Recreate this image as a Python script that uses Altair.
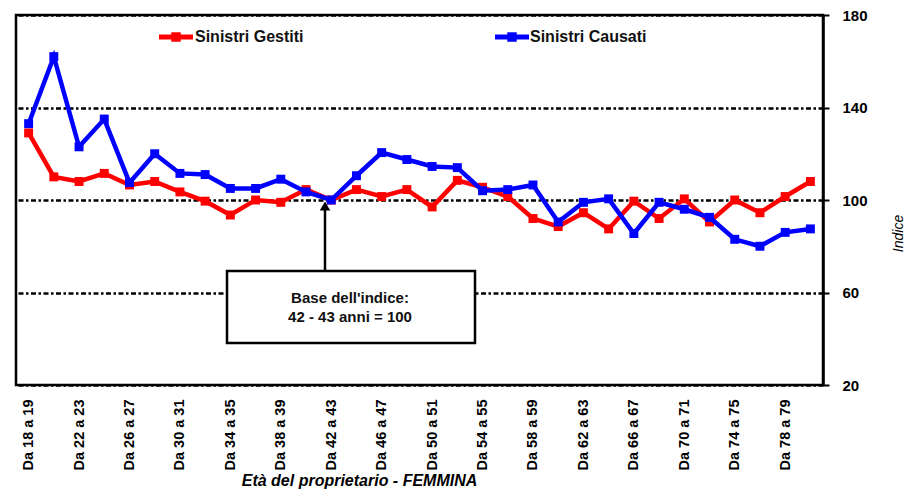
import altair as alt
import pandas as pd

ages = ["Da 18 a 19", "Da 20 a 21", "Da 22 a 23", "Da 24 a 25", "Da 26 a 27", "Da 28 a 29",
        "Da 30 a 31", "Da 32 a 33", "Da 34 a 35", "Da 36 a 37", "Da 38 a 39", "Da 40 a 41",
        "Da 42 a 43", "Da 44 a 45", "Da 46 a 47", "Da 48 a 49", "Da 50 a 51", "Da 52 a 53",
        "Da 54 a 55", "Da 56 a 57", "Da 58 a 59", "Da 60 a 61", "Da 62 a 63", "Da 64 a 65",
        "Da 66 a 67", "Da 68 a 69", "Da 70 a 71", "Da 72 a 73", "Da 74 a 75", "Da 76 a 77",
        "Da 78 a 79", "Da 80 a 81"]
gestiti = [129, 110, 108, 111.5, 106.5, 108, 103.5, 99.5, 93.5, 100, 99, 104.5, 100, 104.5,
           101.5, 104.5, 97, 108.5, 105.5, 101.5, 92, 88.5, 94.5, 87.5, 99.5, 92, 100.5, 90.5,
           100, 94.5, 101.5, 108]
causati = [133, 162, 123, 135, 107.5, 120, 111.5, 111, 105, 105, 109, 103.5, 100, 110.5,
           120.5, 117.5, 114.5, 114, 104, 104.5, 106.5, 90.5, 99, 100.5, 85.5, 99, 96, 92.5,
           83, 80, 86, 87.5]
series_names = ["Sinistri Gestiti", "Sinistri Causati"]
series_colors = ["#FF0000", "#0000FF"]
y_ticks = [20, 60, 100, 140, 180]
x_label_values = ages[::2]
note_lines = ["Base dell'indice:", "42 - 43 anni = 100"]

FONT = "Liberation Sans"

x_enc = alt.X("age:O", sort=ages, scale=alt.Scale(type="point"),
              axis=alt.Axis(values=x_label_values, labelAngle=-90, labelAlign="right",
                            labelBaseline="middle", labelPadding=14, labelFontSize=14.5,
                            labelFontWeight="bold", labelColor="black", ticks=False,
                            domain=False, grid=False,
                            title="Età del proprietario - FEMMINA", titleFontSize=16,
                            titleFontStyle="italic", titleFontWeight="bold",
                            titleColor="black", titleX=343, titleY=95,
                            titleAlign="center", titleBaseline="middle"))
y_enc = alt.Y("v:Q", scale=alt.Scale(domain=[20, 180], nice=False, zero=False),
              axis=alt.Axis(orient="right", values=y_ticks, labelFontSize=15,
                            labelFontWeight="bold", labelColor="black", labelPadding=13,
                            tickSize=6, tickWidth=2, tickColor="black",
                            domain=True, domainWidth=2.5, domainColor="black",
                            grid=True, gridColor="black", gridWidth=2.5,
                            gridDash=[5, 2.5, 2.5, 2.5], gridOpacity=1,
                            title="Indice", titleFontSize=14, titleFontStyle="italic",
                            titleFontWeight="normal", titleColor="black",
                            titleAngle=270, titleX=75, titleY=218,
                            titleAlign="center", titleBaseline="middle"))

layers = []
for name, vals, col in zip(series_names, [gestiti, causati], series_colors):
    df = pd.DataFrame({"age": ages, "v": vals, "s": name})
    layers.append(
        alt.Chart(df).mark_line(color=col, strokeWidth=4.5,
                                point=alt.OverlayMarkDef(shape="square", size=80,
                                                         filled=True, color=col, opacity=1))
        .encode(x=x_enc, y=y_enc)
    )

one = pd.DataFrame({"k": [0]})

# legend (inside plot, top)
legend_pos = [(143, 177, 160, 179), (479, 513, 496, 514)]
for name, col, (x1, x2, xs, xt) in zip(series_names, series_colors, legend_pos):
    layers.append(alt.Chart(one).mark_rule(color=col, strokeWidth=5).encode(
        x=alt.value(x1), x2=alt.value(x2), y=alt.value(22)))
    layers.append(alt.Chart(one).mark_square(color=col, size=90, filled=True, opacity=1).encode(
        x=alt.value(xs), y=alt.value(22)))
    layers.append(alt.Chart(one).mark_text(text=name, align="left", baseline="middle",
                                           fontSize=16, fontWeight="bold", color="#111111",
                                           font=FONT).encode(
        x=alt.value(xt), y=alt.value(22)))

# annotation arrow + box
layers.append(alt.Chart(one).mark_rule(color="black", strokeWidth=2.5).encode(
    x=alt.value(309), y=alt.value(256), y2=alt.value(194)))
layers.append(alt.Chart(one).mark_point(shape="triangle-up", size=110, filled=True,
                                        color="black", opacity=1).encode(
    x=alt.value(309), y=alt.value(191)))
layers.append(alt.Chart(one).mark_rect(fill="white", stroke="black", strokeWidth=2.5).encode(
    x=alt.value(211), x2=alt.value(459), y=alt.value(256), y2=alt.value(328)))
for line, yy in zip(note_lines, [283, 302]):
    layers.append(alt.Chart(one).mark_text(text=line, align="center", baseline="middle",
                                           fontSize=15, fontWeight="bold", color="#111111",
                                           font=FONT).encode(
        x=alt.value(334), y=alt.value(yy)))

chart = alt.layer(*layers).properties(
    width=807, height=370,
    autosize=alt.AutoSizeParams(type="none"),
    padding={"left": 8, "top": 7, "right": 82, "bottom": 106},
).configure(font=FONT, background="white").configure_view(
    stroke="black", strokeWidth=2.5
)

chart.save("out.html", embed_options={"renderer": "svg", "actions": False})
